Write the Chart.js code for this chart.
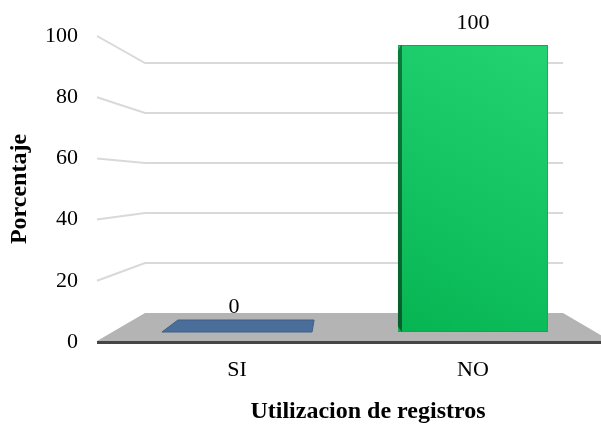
<!DOCTYPE html>
<html>
<head>
<meta charset="utf-8">
<script src="https://cdn.jsdelivr.net/npm/chart.js@4.4.0/dist/chart.umd.min.js"></script>
<style>
  html, body { margin: 0; padding: 0; background: #fff; }
  #wrap { width: 601px; height: 428px; }
</style>
</head>
<body>
<div id="wrap"><canvas id="grafico" width="601" height="428"></canvas></div>
<script>
// Datos del gráfico
const categorias = ['SI', 'NO'];
const porcentajes = [0, 100];
const marcasY = [0, 20, 40, 60, 80, 100];
const tituloX = 'Utilizacion de registros';
const tituloY = 'Porcentaje';

const FUENTE = '"Liberation Serif", "Times New Roman", serif';

// Escena 3D (piso, pared del fondo, barras)
const escena3d = {
    id: 'escena3d',
    beforeDatasetsDraw(chart) {
        const ctx = chart.ctx;
        const area = chart.chartArea;
        const yF = chart.scales.y;
        const yB = chart.scales.yFondo;
        const izqFrente = area.left - 22, izqFondo = area.left + 26;
        const derFondo = area.right - 28, derFrente = area.right + 20;
        const pisoFondo = yB.getPixelForValue(0);
        const pisoFrente = yF.getPixelForValue(0) - 1;

        ctx.save();
        // piso gris
        ctx.beginPath();
        ctx.moveTo(izqFrente, pisoFrente);
        ctx.lineTo(izqFondo, pisoFondo);
        ctx.lineTo(derFondo, pisoFondo);
        ctx.lineTo(derFrente, pisoFrente);
        ctx.closePath();
        ctx.fillStyle = '#b4b4b4';
        ctx.fill();

        // líneas de la cuadrícula (pared izquierda + fondo)
        ctx.strokeStyle = '#d9d9d9';
        ctx.lineWidth = 2;
        marcasY.filter(v => v > 0).forEach(v => {
            ctx.beginPath();
            ctx.moveTo(izqFrente, yF.getPixelForValue(v));
            ctx.lineTo(izqFondo, yB.getPixelForValue(v));
            ctx.lineTo(derFondo, yB.getPixelForValue(v));
            ctx.stroke();
        });

        // eje horizontal
        ctx.strokeStyle = '#454545';
        ctx.lineWidth = 3;
        ctx.beginPath();
        ctx.moveTo(izqFrente, pisoFrente + 1.5);
        ctx.lineTo(chart.width, pisoFrente + 1.5);
        ctx.stroke();
        ctx.restore();
    },
    afterDatasetsDraw(chart) {
        const ctx = chart.ctx;
        const meta = chart.getDatasetMeta(0);
        ctx.save();
        meta.data.forEach((bar, i) => {
            const v = porcentajes[i];
            const izq = bar.x - bar.width / 2, der = bar.x + bar.width / 2;
            let arriba;
            if (v === 0) {
                // barra plana sobre el piso
                arriba = bar.base - 12;
                ctx.beginPath();
                ctx.moveTo(izq, bar.base);
                ctx.lineTo(izq + 16, arriba);
                ctx.lineTo(der + 2, arriba);
                ctx.lineTo(der, bar.base);
                ctx.closePath();
                ctx.fillStyle = '#4a6d9a';
                ctx.fill();
                ctx.strokeStyle = '#3f5f88';
                ctx.lineWidth = 1;
                ctx.stroke();
            } else {
                arriba = bar.y;
                // lado izquierdo oscuro
                const g = ctx.createLinearGradient(0, bar.y, 0, bar.base);
                g.addColorStop(0, '#0b7a3a');
                g.addColorStop(1, '#075c2b');
                ctx.fillStyle = g;
                ctx.beginPath();
                ctx.moveTo(izq, bar.y + 6);
                ctx.lineTo(izq + 3, bar.y);
                ctx.lineTo(izq + 4, bar.y);
                ctx.lineTo(izq + 4, bar.base);
                ctx.lineTo(izq + 1, bar.base - 4);
                ctx.lineTo(izq, bar.base - 6);
                ctx.closePath();
                ctx.fill();
            }
            ctx.fillStyle = '#000';
            ctx.font = '22px ' + FUENTE;
            ctx.textAlign = 'center';
            ctx.textBaseline = 'middle';
            ctx.fillText(String(v), bar.x + (v === 0 ? -3 : 0), arriba - (v === 0 ? 13 : 22));
        });

        // título del eje X
        const area = chart.chartArea;
        ctx.font = 'bold 24px ' + FUENTE;
        ctx.fillText(tituloX, (area.left + area.right) / 2 + 13, 412);
        ctx.restore();
    }
};

const ctx = document.getElementById('grafico').getContext('2d');
new Chart(ctx, {
    type: 'bar',
    data: {
        labels: categorias,
        datasets: [{
            label: tituloY,
            data: porcentajes,
            yAxisID: 'yBarra',
            backgroundColor(c) {
                const a = c.chart.chartArea;
                if (!a) return '#0cbf5a';
                const g = c.chart.ctx.createLinearGradient(a.right - 40, a.top, a.right - 200, a.bottom);
                g.addColorStop(0, '#24d473');
                g.addColorStop(1, '#05b451');
                return g;
            },
            borderColor: '#13a650',
            borderWidth: 1,
            borderSkipped: false,
            barPercentage: 0.636,
            categoryPercentage: 1
        }]
    },
    options: {
        responsive: false,
        animation: false,
        layout: { padding: { top: 36, right: 10, left: 0, bottom: 0 } },
        plugins: { legend: { display: false }, tooltip: { enabled: false } },
        scales: {
            x: {
                grid: { display: false, drawTicks: false },
                border: { display: false },
                ticks: { color: '#000', font: { family: FUENTE, size: 22 }, padding: 15 },
                afterFit(s) { s.height = 86; }
            },
            y: {
                min: 0,
                max: 100,
                grid: { display: false, drawTicks: false },
                border: { display: false },
                ticks: { stepSize: 20, color: '#000', font: { family: FUENTE, size: 22 }, padding: 41 },
                title: {
                    display: true,
                    text: tituloY,
                    color: '#000',
                    font: { family: FUENTE, size: 24, weight: 'bold' },
                    padding: { top: 5, bottom: 0 }
                },
                afterFit(s) {
                    s.width = 119;
                    s.paddingTop = 0;
                    s.paddingBottom = 0;
                }
            },
            // escala de las barras (profundidad media)
            yBarra: { display: false, min: -3.48, max: 103.14 },
            // escala de la pared del fondo
            yFondo: { display: false, min: -11.6, max: 110.8 }
        }
    },
    plugins: [escena3d]
});
</script>
</body>
</html>
